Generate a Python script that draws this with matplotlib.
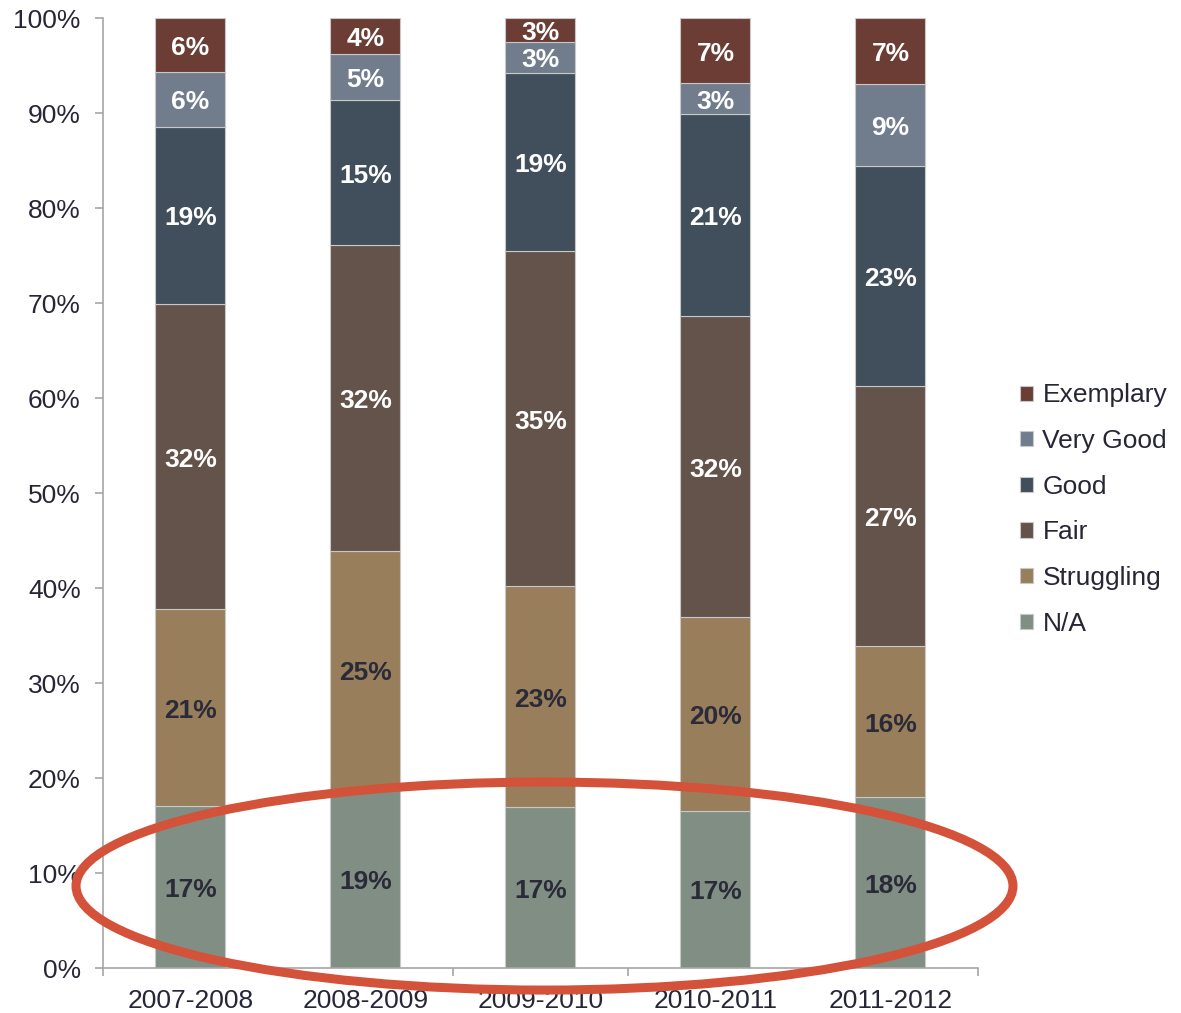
import matplotlib.pyplot as plt
import numpy as np
from matplotlib.patches import Ellipse

plt.rcParams["font.family"] = ["Liberation Sans", "DejaVu Sans"]

years = ["2007-2008", "2008-2009", "2009-2010", "2010-2011", "2011-2012"]

# stacking order, bottom to top
na = [17.05, 18.84, 16.92, 16.56, 17.97]
struggling = [20.74, 25.05, 23.29, 20.39, 15.92]
fair = [32.10, 32.18, 35.26, 31.68, 27.37]
good = [18.67, 15.30, 18.77, 21.30, 23.13]
very_good = [5.76, 4.84, 3.23, 3.20, 8.66]
exemplary = [5.68, 3.79, 2.53, 6.87, 6.95]

series = [
    ("N/A", na, "#818e84", "#2a2a38"),
    ("Struggling", struggling, "#987e5a", "#2a2a38"),
    ("Fair", fair, "#64534a", "white"),
    ("Good", good, "#414f5c", "white"),
    ("Very Good", very_good, "#717d8c", "white"),
    ("Exemplary", exemplary, "#6b3d35", "white"),
]

text_col = "#262636"
axis_col = "#a6a6a6"

fig = plt.figure(figsize=(11.81, 10.13), dpi=100)
ax = fig.add_axes([0.0872, 0.0444, 0.7409, 0.9378])

x = np.arange(len(years))
bottom = np.zeros(len(years))
handles = []
for name, vals, color, lab_col in series:
    vals = np.array(vals)
    bars = ax.bar(x, vals, 0.4, bottom=bottom, color=color, edgecolor="#c8c8c8",
                  linewidth=0.8, label=name, zorder=2)
    for xi, b, v in zip(x, bottom, vals):
        ax.annotate(f"{round(v)}%", xy=(xi, b + v / 2), xytext=(0, -2.2),
                    textcoords="offset points", ha="center", va="center",
                    color=lab_col, fontsize=19, fontweight="bold", zorder=3)
    handles.append(bars)
    bottom += vals

ax.set_xlim(-0.5, 4.5)
ax.set_ylim(0, 100)
ax.set_yticks(np.arange(0, 101, 10))
ax.set_yticklabels([f"{v}%" for v in range(0, 101, 10)])
ax.set_xticks(x)
ax.set_xticklabels(years)
ax.set_xticks(np.arange(-0.5, 4.6, 1), minor=True)

for s in ["top", "right"]:
    ax.spines[s].set_visible(False)
for s in ["left", "bottom"]:
    ax.spines[s].set_color(axis_col)
    ax.spines[s].set_linewidth(1.2)

ax.tick_params(axis="y", direction="out", length=6, width=1.2, color=axis_col,
               labelsize=19, labelcolor=text_col, pad=10)
ax.tick_params(axis="x", which="major", length=0, labelsize=19, labelcolor=text_col, pad=15)
ax.tick_params(axis="x", which="minor", direction="out", length=6, width=1.2, color=axis_col)

fig.legend(handles[::-1], [s[0] for s in series][::-1], loc="center left",
           bbox_to_anchor=(0.8525, 0.497), frameon=False, fontsize=19,
           handlelength=0.5, handleheight=0.5, handletextpad=0.35,
           labelspacing=0.82, borderpad=0, labelcolor=text_col)

# red ellipse highlighting the N/A row
ell = Ellipse((2.023, 8.63), 5.354, 21.9, fill=False, edgecolor="#d35239",
              linewidth=6.5, transform=ax.transData, clip_on=False, zorder=10)
ax.add_patch(ell)

fig.savefig("out.png", dpi=100)
